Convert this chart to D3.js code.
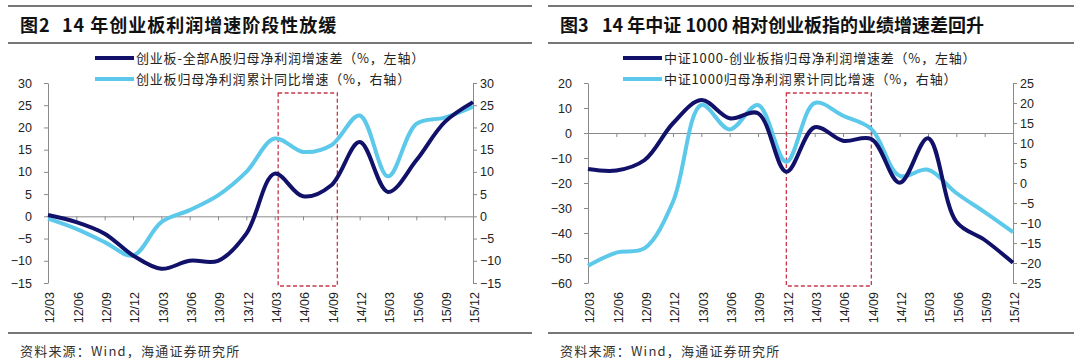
<!DOCTYPE html>
<html>
<head>
<meta charset="utf-8">
<script src="https://cdn.jsdelivr.net/npm/d3@7"></script>
<style>
  html, body { margin: 0; padding: 0; background: #ffffff; }
  svg { display: block; }
  .tick text { font-family: "Liberation Sans", Arial, sans-serif; font-size: 12.5px; fill: #222; }
</style>
</head>
<body>
<svg id="chart" width="1080" height="364"></svg>
<script>
// ============================================================
// Data (quarterly 2012Q1 - 2015Q4)
// ============================================================
const quarters = ["12/03", "12/06", "12/09", "12/12", "13/03", "13/06", "13/09", "13/12",
                  "14/03", "14/06", "14/09", "14/12", "15/03", "15/06", "15/09", "15/12"];

// Fig 2: ChiNext minus all A-share net profit growth gap (left axis)
const gemGap   = [0.3, -1.3, -3.9, -8.8, -11.8, -10, -10, -3.9, 9.6, 4.5, 7, 16.7, 5.5, 12.6, 21.2, 25.7];
// Fig 2: ChiNext cumulative YoY net profit growth (right axis)
const gemGrowth = [-0.5, -2.8, -5.8, -8.8, -1.3, 1.4, 4.7, 10, 17.5, 14.5, 16, 22.7, 9, 20.8, 22.2, 24.7];

// Fig 3: CSI 1000 minus ChiNext index growth gap (left axis)
const csiGap    = [-14.4, -15, -10.8, 3.9, 13.2, 5.9, 7.9, -15.5, 2.3, -3.1, -2.4, -19.9, -2.1, -35.5, -42.8, -51.9];
// Fig 3: CSI 1000 cumulative YoY net profit growth (right axis)
const csiGrowth = [-20.7, -17.4, -16.3, -4.7, 19.5, 13.4, 19.5, 5.3, 20, 16.8, 13.5, 1.8, 3.3, -2.5, -7.3, -12.3];

const fig2LeftTicks  = [-15, -10, -5, 0, 5, 10, 15, 20, 25, 30];
const fig2RightTicks = [-15, -10, -5, 0, 5, 10, 15, 20, 25, 30];
const fig3LeftTicks  = [-60, -50, -40, -30, -20, -10, 0, 10, 20];
const fig3RightTicks = [-25, -20, -15, -10, -5, 0, 5, 10, 15, 20, 25];

const DARK = "#11116a";
const LIGHT = "#5cc8ea";

const svg = d3.select("#chart");

function drawPanel(cfg) {
    const g = svg.append("g");

    // Frame lines and title
    [6, 43, 333].forEach(function (y) {
        g.append("line")
            .attr("x1", cfg.frameX0).attr("x2", cfg.frameX1)
            .attr("y1", y).attr("y2", y)
            .attr("stroke", "#4a4a4a").attr("stroke-width", 1.5);
    });

    const title = g.append("text")
        .attr("y", 32)
        .attr("font-family", "'Noto Sans CJK SC', sans-serif")
        .attr("font-size", 18).attr("font-weight", "bold").attr("fill", "#111")
        .attr("letter-spacing", cfg.titleSpacing);
    title.append("tspan").attr("x", cfg.frameX0 + 12).text(cfg.figNo);
    title.append("tspan").attr("x", cfg.frameX0 + 54).text(cfg.title);

    g.append("text")
        .attr("x", cfg.frameX0 + 12).attr("y", 356)
        .attr("font-family", "'Noto Sans CJK SC', sans-serif")
        .attr("font-size", 13).attr("fill", "#333")
        .attr("letter-spacing", 1.2)
        .text("资料来源：Wind，海通证券研究所");

    // Scales
    const x = d3.scalePoint().domain(quarters).range([cfg.plotX0, cfg.plotX1]);
    const yL = d3.scaleLinear().domain(cfg.leftDomain).range([283, 83]);
    const yR = d3.scaleLinear().domain(cfg.rightDomain).range([283, 83]);

    // Axes
    const leftAxis = g.append("g")
        .attr("transform", "translate(" + cfg.plotX0 + ",0)")
        .call(d3.axisLeft(yL).tickValues(cfg.leftTicks).tickSize(4).tickSizeOuter(0).tickPadding(12).tickFormat(d3.format("d")));
    const rightAxis = g.append("g")
        .attr("transform", "translate(" + cfg.plotX1 + ",0)")
        .call(d3.axisRight(yR).tickValues(cfg.rightTicks).tickSize(4).tickSizeOuter(0).tickPadding(3).tickFormat(d3.format("d")));
    [leftAxis, rightAxis].forEach(function (a) {
        a.select(".domain").attr("stroke", "#8a8a8a");
        a.selectAll(".tick line").attr("stroke", "#8a8a8a");
    });

    // Zero line with category ticks
    const zeroAxis = g.append("g")
        .attr("transform", "translate(0," + yL(0) + ")")
        .call(d3.axisBottom(x).tickSize(4).tickSizeOuter(0).tickFormat(""));
    zeroAxis.select(".domain").attr("stroke", "#8a8a8a");
    zeroAxis.selectAll(".tick line").attr("stroke", "#8a8a8a");

    // Rotated category labels along the bottom
    g.selectAll(".xlab")
        .data(quarters)
        .enter()
        .append("text")
        .attr("class", "xlab")
        .attr("transform", function (d) { return "translate(" + (x(d) + 2) + ",292) rotate(-90)"; })
        .attr("dy", "0.35em")
        .attr("text-anchor", "end")
        .attr("font-family", "'Liberation Sans', Arial, sans-serif")
        .attr("font-size", 12.5).attr("fill", "#222")
        .text(function (d) { return d; });

    // Highlight box (dashed red)
    g.append("rect")
        .attr("x", x(cfg.boxFrom) + cfg.boxShift[0])
        .attr("y", 93)
        .attr("width", x(cfg.boxTo) + cfg.boxShift[1] - x(cfg.boxFrom) - cfg.boxShift[0])
        .attr("height", 193)
        .attr("fill", "none")
        .attr("stroke", "#c8384a").attr("stroke-width", 1.3)
        .attr("stroke-dasharray", "4,2.5");

    // Series lines (smoothed, like the original)
    const lineL = d3.line()
        .x(function (d, i) { return x(quarters[i]); })
        .y(function (d) { return yL(d); })
        .curve(d3.curveCatmullRom.alpha(0.5));
    const lineR = d3.line()
        .x(function (d, i) { return x(quarters[i]); })
        .y(function (d) { return yR(d); })
        .curve(d3.curveCatmullRom.alpha(0.5));

    g.append("path").datum(cfg.lightSeries)
        .attr("d", lineR)
        .attr("fill", "none").attr("stroke", LIGHT).attr("stroke-width", 4);
    g.append("path").datum(cfg.darkSeries)
        .attr("d", lineL)
        .attr("fill", "none").attr("stroke", DARK).attr("stroke-width", 4);

    // Legend
    const legend = [
        { label: cfg.darkLabel, color: DARK, y: 58 },
        { label: cfg.lightLabel, color: LIGHT, y: 79 }
    ];
    legend.forEach(function (item) {
        g.append("line")
            .attr("x1", cfg.legendX).attr("x2", cfg.legendX + 39)
            .attr("y1", item.y).attr("y2", item.y)
            .attr("stroke", item.color).attr("stroke-width", 4);
        g.append("text")
            .attr("x", cfg.legendX + 41).attr("y", item.y + 4.5)
            .attr("font-family", "'Noto Sans CJK SC', sans-serif")
            .attr("font-size", 13).attr("fill", "#222")
            .attr("letter-spacing", 0.8)
            .text(item.label);
    });
}

drawPanel({
    frameX0: 8, frameX1: 532,
    figNo: "图2",
    title: "14 年创业板利润增速阶段性放缓",
    titleSpacing: 1,
    plotX0: 48, plotX1: 473,
    leftDomain: [-15, 30], rightDomain: [-15, 30],
    leftTicks: fig2LeftTicks, rightTicks: fig2RightTicks,
    darkSeries: gemGap, lightSeries: gemGrowth,
    darkLabel: "创业板-全部A股归母净利润增速差（%，左轴）",
    lightLabel: "创业板归母净利润累计同比增速（%，右轴）",
    legendX: 95,
    boxFrom: "14/03", boxTo: "14/09", boxShift: [3.5, 6]
});

drawPanel({
    frameX0: 548, frameX1: 1074,
    figNo: "图3",
    title: "14 年中证 1000 相对创业板指的业绩增速差回升",
    titleSpacing: 0,
    plotX0: 588, plotX1: 1013,
    leftDomain: [-60, 20], rightDomain: [-25, 25],
    leftTicks: fig3LeftTicks, rightTicks: fig3RightTicks,
    darkSeries: csiGap, lightSeries: csiGrowth,
    darkLabel: "中证1000-创业板指归母净利润增速差（%，左轴）",
    lightLabel: "中证1000归母净利润累计同比增速（%，右轴）",
    legendX: 623,
    boxFrom: "13/12", boxTo: "14/09", boxShift: [0, 0]
});
</script>
</body>
</html>
